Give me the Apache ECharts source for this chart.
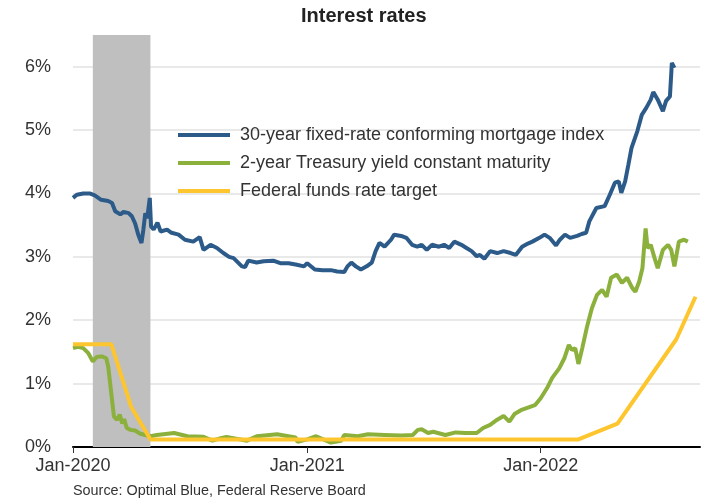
<!DOCTYPE html>
<html>
<head>
<meta charset="utf-8">
<script src="https://cdn.jsdelivr.net/npm/echarts@6/dist/echarts.min.js"></script>
<style>
  html, body { margin: 0; padding: 0; background: #fff; }
  #chart { width: 710px; height: 503px; }
</style>
</head>
<body>
<div id="chart"></div>
<script>
var seriesNames = [
  '30-year fixed-rate conforming mortgage index',
  '2-year Treasury yield constant maturity',
  'Federal funds rate target'
];

var recession = ['2020-02-01', '2020-05-01'];

var mortgage = [
  ['2020-01-01', 3.93], ['2020-01-07', 3.98], ['2020-01-17', 4.00], ['2020-01-27', 4.00],
  ['2020-02-04', 3.97], ['2020-02-14', 3.90], ['2020-02-25', 3.88], ['2020-03-02', 3.85],
  ['2020-03-07', 3.72], ['2020-03-15', 3.67], ['2020-03-20', 3.71], ['2020-03-28', 3.69],
  ['2020-04-02', 3.64], ['2020-04-07', 3.53], ['2020-04-12', 3.35], ['2020-04-17', 3.22],
  ['2020-04-20', 3.43], ['2020-04-23', 3.69], ['2020-04-26', 3.61], ['2020-04-30', 3.93],
  ['2020-05-02', 3.48], ['2020-05-06', 3.43], ['2020-05-12', 3.54], ['2020-05-17', 3.40],
  ['2020-05-27', 3.43], ['2020-06-03', 3.38], ['2020-06-14', 3.35], ['2020-06-24', 3.27],
  ['2020-07-07', 3.24], ['2020-07-17', 3.31], ['2020-07-23', 3.11], ['2020-08-03', 3.19],
  ['2020-08-13', 3.14], ['2020-08-23', 3.06], ['2020-09-01', 3.00], ['2020-09-08', 2.98],
  ['2020-09-21', 2.85], ['2020-09-26', 2.84], ['2020-10-01', 2.94], ['2020-10-14', 2.91],
  ['2020-10-25', 2.93], ['2020-11-09', 2.94], ['2020-11-20', 2.90], ['2020-12-03', 2.90],
  ['2020-12-14', 2.88], ['2020-12-27', 2.85], ['2021-01-01', 2.90], ['2021-01-13', 2.80],
  ['2021-01-25', 2.79], ['2021-02-07', 2.79], ['2021-02-17', 2.77], ['2021-02-28', 2.76],
  ['2021-03-05', 2.85], ['2021-03-11', 2.91], ['2021-03-18', 2.85], ['2021-03-26', 2.80],
  ['2021-04-04', 2.85], ['2021-04-12', 2.91], ['2021-04-18', 3.09], ['2021-04-24', 3.22],
  ['2021-05-02', 3.16], ['2021-05-12', 3.27], ['2021-05-17', 3.35], ['2021-05-28', 3.33],
  ['2021-06-05', 3.30], ['2021-06-14', 3.19], ['2021-06-22', 3.16], ['2021-06-29', 3.19],
  ['2021-07-07', 3.11], ['2021-07-15', 3.19], ['2021-07-26', 3.16], ['2021-08-03', 3.19],
  ['2021-08-11', 3.14], ['2021-08-19', 3.24], ['2021-08-30', 3.19], ['2021-09-07', 3.14],
  ['2021-09-15', 3.09], ['2021-09-23', 3.01], ['2021-09-28', 3.03], ['2021-10-05', 2.97],
  ['2021-10-14', 3.09], ['2021-10-25', 3.06], ['2021-11-04', 3.09], ['2021-11-15', 3.06],
  ['2021-11-23', 3.03], ['2021-12-03', 3.16], ['2021-12-12', 3.21], ['2021-12-19', 3.24],
  ['2021-12-30', 3.30], ['2022-01-07', 3.35], ['2022-01-15', 3.30], ['2022-01-25', 3.18],
  ['2022-01-31', 3.27], ['2022-02-08', 3.35], ['2022-02-16', 3.30], ['2022-02-27', 3.33],
  ['2022-03-06', 3.36], ['2022-03-13', 3.38], ['2022-03-18', 3.56], ['2022-03-29', 3.77],
  ['2022-04-11', 3.80], ['2022-04-19', 3.98], ['2022-04-27', 4.17], ['2022-05-03', 4.19],
  ['2022-05-07', 4.01], ['2022-05-13', 4.19], ['2022-05-18', 4.45], ['2022-05-23', 4.72],
  ['2022-06-01', 4.98], ['2022-06-08', 5.24], ['2022-06-15', 5.35], ['2022-06-22', 5.48],
  ['2022-06-26', 5.60], ['2022-07-03', 5.48], ['2022-07-11', 5.30], ['2022-07-16', 5.46],
  ['2022-07-22', 5.53], ['2022-07-24', 5.88], ['2022-07-25', 6.06], ['2022-07-29', 5.98]
];

var treasury2y = [
  ['2020-01-01', 1.56], ['2020-01-09', 1.58], ['2020-01-17', 1.56], ['2020-01-25', 1.48],
  ['2020-02-01', 1.35], ['2020-02-07', 1.42], ['2020-02-15', 1.43], ['2020-02-22', 1.40],
  ['2020-02-25', 1.27], ['2020-02-28', 1.01], ['2020-03-02', 0.74], ['2020-03-05', 0.48],
  ['2020-03-10', 0.43], ['2020-03-14', 0.51], ['2020-03-18', 0.37], ['2020-03-21', 0.44],
  ['2020-03-25', 0.30], ['2020-03-31', 0.27], ['2020-04-07', 0.26], ['2020-04-15', 0.21],
  ['2020-04-23', 0.19], ['2020-05-01', 0.17], ['2020-05-11', 0.19], ['2020-06-07', 0.22],
  ['2020-06-28', 0.17], ['2020-07-23', 0.16], ['2020-08-06', 0.10], ['2020-08-19', 0.14],
  ['2020-08-28', 0.16], ['2020-09-29', 0.10], ['2020-10-14', 0.17], ['2020-11-15', 0.20],
  ['2020-12-14', 0.15], ['2020-12-17', 0.08], ['2021-01-01', 0.12], ['2021-01-15', 0.17],
  ['2021-02-07', 0.07], ['2021-02-23', 0.10], ['2021-02-28', 0.19], ['2021-03-21', 0.17],
  ['2021-04-06', 0.20], ['2021-05-02', 0.19], ['2021-05-28', 0.18], ['2021-06-15', 0.19],
  ['2021-06-23', 0.27], ['2021-06-29', 0.28], ['2021-07-09', 0.22], ['2021-07-17', 0.24],
  ['2021-08-05', 0.19], ['2021-08-21', 0.23], ['2021-09-06', 0.22], ['2021-09-23', 0.22],
  ['2021-10-03', 0.30], ['2021-10-14', 0.35], ['2021-10-25', 0.43], ['2021-11-04', 0.49],
  ['2021-11-13', 0.40], ['2021-11-21', 0.52], ['2021-12-01', 0.58], ['2021-12-12', 0.62],
  ['2021-12-23', 0.66], ['2022-01-01', 0.77], ['2022-01-11', 0.93], ['2022-01-19', 1.09],
  ['2022-01-30', 1.24], ['2022-02-07', 1.40], ['2022-02-14', 1.61], ['2022-02-19', 1.53],
  ['2022-02-24', 1.56], ['2022-03-01', 1.31], ['2022-03-07', 1.56], ['2022-03-14', 1.88],
  ['2022-03-22', 2.19], ['2022-03-30', 2.40], ['2022-04-07', 2.48], ['2022-04-14', 2.37],
  ['2022-04-21', 2.67], ['2022-04-30', 2.72], ['2022-05-08', 2.59], ['2022-05-16', 2.67],
  ['2022-05-24', 2.51], ['2022-05-29', 2.45], ['2022-06-04', 2.61], ['2022-06-09', 2.82],
  ['2022-06-14', 3.45], ['2022-06-17', 3.14], ['2022-06-22', 3.19], ['2022-06-28', 2.98],
  ['2022-07-03', 2.82], ['2022-07-11', 3.11], ['2022-07-19', 3.19], ['2022-07-24', 3.11],
  ['2022-07-29', 2.85], ['2022-08-05', 3.24], ['2022-08-13', 3.27], ['2022-08-19', 3.24]
];

var fedFunds = [
  ['2020-01-01', 1.62], ['2020-03-01', 1.62], ['2020-04-01', 0.63], ['2020-05-01', 0.12],
  ['2022-03-01', 0.12], ['2022-05-01', 0.37], ['2022-08-01', 1.70], ['2022-08-31', 2.37]
];

var colors = ['#2c5b8a', '#8cb03c', '#fdc52e'];
var font = 'Liberation Sans, Arial, sans-serif';

var chartDom = document.getElementById('chart');
var myChart = echarts.init(chartDom, null, { renderer: 'canvas' });

var year = 365 * 24 * 3600 * 1000;

var option = {
  animation: false,
  color: colors,
  title: [
    {
      text: 'Interest rates',
      left: 301,
      top: 6,
      padding: 0,
      textStyle: { fontFamily: font, fontSize: 20, fontWeight: 'bold', color: '#222' }
    },
    {
      text: 'Source: Optimal Blue, Federal Reserve Board',
      left: 73,
      top: 484,
      padding: 0,
      textStyle: { fontFamily: font, fontSize: 14.4, fontWeight: 'normal', color: '#333' }
    }
  ],
  legend: {
    data: seriesNames,
    orient: 'vertical',
    left: 178,
    top: 126,
    padding: 0,
    icon: 'rect',
    itemWidth: 52,
    itemHeight: 4,
    itemGap: 10,
    textStyle: { fontFamily: font, fontSize: 18, color: '#333', padding: [0, 0, 0, 5] }
  },
  grid: { left: 73, right: 10, top: 35, bottom: 56 },
  xAxis: {
    type: 'time',
    min: '2020-01-01',
    max: '2022-09-07',
    minInterval: year,
    maxInterval: year + 2 * 24 * 3600 * 1000,
    axisLine: { lineStyle: { color: '#000', width: 2 } },
    axisTick: { show: true, length: 6, lineStyle: { color: '#333', width: 1 } },
    axisLabel: {
      formatter: '{MMM}-{yyyy}',
      fontFamily: font,
      fontSize: 18,
      color: '#333',
      margin: 10
    },
    splitLine: { show: false }
  },
  yAxis: {
    type: 'value',
    min: 0,
    max: 6.5,
    interval: 1,
    axisLine: { show: false },
    axisTick: { show: false },
    axisLabel: {
      formatter: '{value}%',
      showMaxLabel: false,
      fontFamily: font,
      fontSize: 18,
      color: '#333',
      margin: 22
    },
    splitLine: { showMaxLine: false, lineStyle: { color: '#e2e2e2', width: 1.5 } }
  },
  series: [
    {
      name: 'recession',
      type: 'line',
      data: [],
      z: 1,
      silent: true,
      markArea: {
        silent: true,
        itemStyle: { color: '#bfbfbf' },
        data: [[{ xAxis: recession[0] }, { xAxis: recession[1] }]]
      }
    },
    {
      name: seriesNames[0],
      type: 'line',
      data: mortgage,
      showSymbol: false,
      z: 3,
      lineStyle: { width: 4, color: colors[0] },
      itemStyle: { color: colors[0] }
    },
    {
      name: seriesNames[1],
      type: 'line',
      data: treasury2y,
      showSymbol: false,
      z: 3,
      lineStyle: { width: 4, color: colors[1] },
      itemStyle: { color: colors[1] }
    },
    {
      name: seriesNames[2],
      type: 'line',
      data: fedFunds,
      showSymbol: false,
      z: 4,
      lineStyle: { width: 4, color: colors[2] },
      itemStyle: { color: colors[2] }
    }
  ]
};

option && myChart.setOption(option);
</script>
</body>
</html>
